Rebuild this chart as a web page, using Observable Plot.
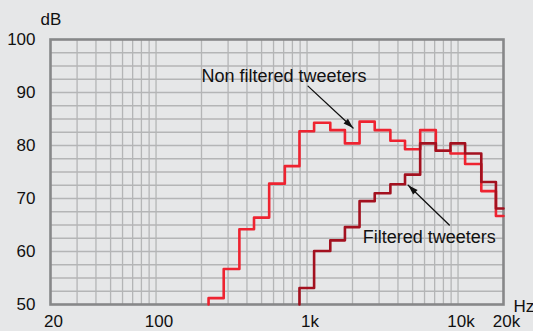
<!DOCTYPE html>
<html>
<head>
<meta charset="utf-8">
<script src="https://cdn.jsdelivr.net/npm/d3@7"></script>
<script src="https://cdn.jsdelivr.net/npm/@observablehq/plot@0.6"></script>
<style>
  html, body { margin: 0; padding: 0; background: #e6e7e8; }
  #chart { width: 533px; height: 331px; overflow: hidden; }
</style>
</head>
<body>
<div id="chart"></div>
<script>
// 1/3-octave band centre frequencies (Hz)
const bands = [250, 315, 400, 500, 630, 800, 1000, 1250, 1600, 2000, 2500, 3150, 4000, 5000, 6300, 8000, 10000, 12500, 16000, 20000];
// Level of non filtered tweeters (dB), one per band
const nonFiltered = [51.2, 56.7, 64.2, 66.4, 72.8, 76.1, 82.7, 84.3, 82.9, 80.4, 84.5, 82.9, 80.9, 79.3, 82.9, 79.0, 78.5, 76.5, 71.4, 66.7];
// Filtered tweeters (bands from 1 kHz)
const filteredBands = [1000, 1250, 1600, 2000, 2500, 3150, 4000, 5000, 6300, 8000, 10000, 12500, 16000, 20000];
const filtered = [53.1, 60.1, 62.1, 64.6, 69.5, 71.0, 72.7, 74.5, 80.4, 79.0, 80.4, 78.5, 73.1, 68.1];

const xDomain = [20, 20000];
const yDomain = [50, 100];
const xTicks = [20, 100, 1000, 10000, 20000];
const xTickLabels = ["20", "100", "1k", "10k", "20k"];
const yTicks = [50, 60, 70, 80, 90, 100];
const xGrid = [30, 40, 50, 60, 70, 80, 90, 100, 200, 300, 400, 500, 600, 700, 800, 900, 1000, 2000, 3000, 4000, 5000, 6000, 7000, 8000, 9000, 10000];
const yGrid = d3.range(52.5, 100, 2.5);

// annotations (data coordinates)
const labels = [
  {text: "Non filtered tweeters", f: 725, db: 93.1},
  {text: "Filtered tweeters", f: 6650, db: 62.7}
];
const arrows = [
  {f1: 1015, db1: 91.2, f2: 2018, db2: 83.3},
  {f1: 8750, db1: 65.0, f2: 4676, db2: 72.5}
];

const W = 533, H = 331, mL = 50, mT = 39, mR = 30, mB = 27;

const edge = (c) => c / Math.pow(2, 1 / 6);
function steps(bs, vals) {
  const pts = [{f: edge(bs[0]), db: yDomain[0]}];
  bs.forEach((b, i) => pts.push({f: edge(b), db: vals[i]}));
  pts.push({f: xDomain[1], db: vals[vals.length - 1]});
  return pts;
}
const redSteps = steps(bands, nonFiltered);
const darkSteps = steps(filteredBands, filtered);

// scales matching the plot, used only to orient the arrow heads
const sx = Plot.scale({x: {type: "log", domain: xDomain, range: [mL, W - mR]}});
const sy = Plot.scale({y: {domain: yDomain, range: [H - mB, mT]}});
const headAngle = d => {
  const dx = sx.apply(d.f2) - sx.apply(d.f1);
  const dy = sy.apply(d.db2) - sy.apply(d.db1);
  return Math.atan2(dx, -dy) * 180 / Math.PI;
};
// narrow filled arrow head with its tip at the origin, pointing up
const arrowHead = {
  draw(ctx, size) {
    const L = Math.sqrt(size / Math.PI) * 2;
    const w = L * 0.32;
    ctx.moveTo(0, 0);
    ctx.lineTo(w, L);
    ctx.lineTo(-w, L);
    ctx.closePath();
  }
};

const chart = Plot.plot({
  width: W,
  height: H,
  marginLeft: mL,
  marginTop: mT,
  marginRight: mR,
  marginBottom: mB,
  style: {background: "#e6e7e8", fontFamily: "'Liberation Sans', Arial, Helvetica, sans-serif", fontSize: "17px", color: "#111"},
  x: {type: "log", domain: xDomain},
  y: {domain: yDomain},
  marks: [
    Plot.ruleX(xGrid, {stroke: "#b4b5b6", strokeWidth: 1.3}),
    Plot.ruleY(yGrid, {stroke: "#b4b5b6", strokeWidth: 1.3}),
    Plot.frame({stroke: "#878889", strokeWidth: 2.6}),
    Plot.line(redSteps, {x: "f", y: "db", curve: "step-after", stroke: "#ee2330", strokeWidth: 2.6}),
    Plot.line(darkSteps, {x: "f", y: "db", curve: "step-after", stroke: "#a3111f", strokeWidth: 2.6}),
    Plot.axisX(xTicks, {tickSize: 0, tickPadding: 10, dx: 3, fontSize: 17, tickFormat: d => xTickLabels[xTicks.indexOf(d)], fill: "#111"}),
    Plot.axisY(yTicks, {tickSize: 0, tickPadding: 15, fontSize: 17, fill: "#111"}),
    Plot.text(["dB"], {frameAnchor: "top-left", dx: -10, dy: -20, textAnchor: "start", lineAnchor: "middle", fontSize: 17, fill: "#111"}),
    Plot.text(["Hz"], {frameAnchor: "bottom-right", dx: 10, dy: 2, textAnchor: "start", lineAnchor: "middle", fontSize: 17, fill: "#111"}),
    Plot.text(labels, {x: "f", y: "db", text: "text", fontSize: 18, fill: "#111", lineAnchor: "middle", dx: -2}),
    Plot.arrow(arrows, {x1: "f1", y1: "db1", x2: "f2", y2: "db2", stroke: "#111", strokeWidth: 1.3, headLength: 0}),
    Plot.dot(arrows, {x: "f2", y: "db2", symbol: arrowHead, r: 5, fill: "#111", stroke: "none", rotate: headAngle})
  ]
});

document.getElementById("chart").appendChild(chart);
</script>
</body>
</html>
